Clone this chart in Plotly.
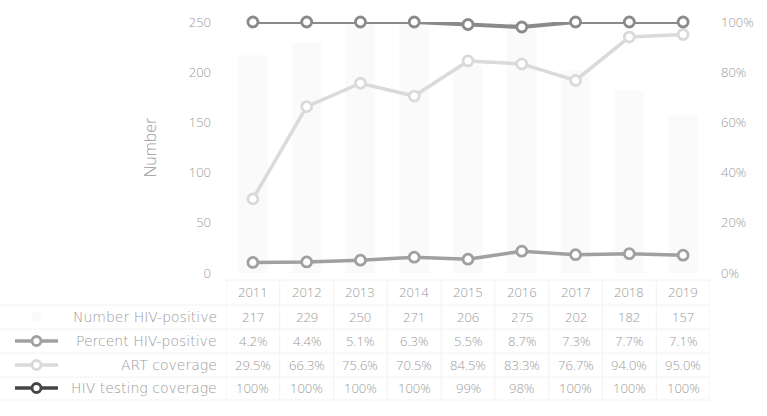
import plotly.graph_objects as go

# Data
years = ["2011", "2012", "2013", "2014", "2015", "2016", "2017", "2018", "2019"]
number_pos = [217, 229, 250, 271, 206, 275, 202, 182, 157]
pct_pos = [4.2, 4.4, 5.1, 6.3, 5.5, 8.7, 7.3, 7.7, 7.1]
art_cov = [29.5, 66.3, 75.6, 70.5, 84.5, 83.3, 76.7, 94.0, 95.0]
test_cov = [100, 100, 100, 100, 99, 98, 100, 100, 100]

row_names = ["Number HIV-positive", "Percent HIV-positive", "ART coverage", "HIV testing coverage"]
row_text = [
    [str(v) for v in number_pos],
    [f"{v:.1f}%" for v in pct_pos],
    [f"{v:.1f}%" for v in art_cov],
    [f"{v:g}%" for v in test_cov],
]
left_ticks = [0, 50, 100, 150, 200, 250]
right_ticks = [0, 20, 40, 60, 80, 100]

W, H = 767, 416
M_L, M_R, M_T, M_B = 226, 57, 22, 143
TXT = "#9a9a9a"
FONT = "Open Sans"
FS = 13

C_PCT = "#a0a0a0"
C_ART = "#dadada"
C_TEST = "#8a8a8a"
C_TEST_KEY = "#454545"
C_BAR = "#fafafa"

idx = list(range(len(years)))

fig = go.Figure()
fig.add_trace(go.Bar(x=idx, y=number_pos, marker=dict(color=C_BAR, line=dict(width=0)),
                     width=0.55, name=row_names[0], yaxis="y"))

def line_trace(vals, color, name, lw=3.5):
    return go.Scatter(x=idx, y=vals, mode="lines+markers", name=name, yaxis="y2",
                      line=dict(color=color, width=lw),
                      marker=dict(symbol="circle", size=10, color="white",
                                  line=dict(color=color, width=2.8)),
                      cliponaxis=False)

fig.add_trace(line_trace(art_cov, C_ART, row_names[2]))
fig.add_trace(line_trace(pct_pos, C_PCT, row_names[1]))
fig.add_trace(line_trace(test_cov, C_TEST, row_names[3], lw=4))

plot_h = H - M_T - M_B

def py2paper(py):
    return (H - M_B - py) / plot_h

def px2paper(px):
    return (px - M_L) / (W - M_L - M_R)

txt_font = dict(family=FONT, size=FS, color=TXT, weight=300)
label_font = dict(family="DejaVu Sans", size=14, color=TXT, weight=200)
annotations = []
shapes = []

# Year header and table body
year_y = 292
row_ys = [317, 341, 365, 388]
for i, yr in enumerate(years):
    annotations.append(dict(x=i, y=py2paper(year_y), xref="x", yref="paper", text=yr,
                            xanchor="center", yanchor="middle", showarrow=False, font=txt_font))
for r, (name, texts) in enumerate(zip(row_names, row_text)):
    yy = py2paper(row_ys[r])
    annotations.append(dict(x=px2paper(219), y=yy, xref="paper", yref="paper", text=name,
                            xanchor="right", yanchor="middle", showarrow=False,
                            font=label_font))
    for i, t in enumerate(texts):
        annotations.append(dict(x=i, y=yy, xref="x", yref="paper", text=t, showarrow=False,
                                xanchor="center", yanchor="middle", font=txt_font))

# Faint table grid
grid_c = "#f2f2f2"
h_lines = [280, 305, 329, 353, 377, 400]
for hy in h_lines:
    shapes.append(dict(type="line", xref="paper", yref="paper",
                       x0=px2paper(0 if hy > 300 else M_L), x1=1,
                       y0=py2paper(hy), y1=py2paper(hy), line=dict(color=grid_c, width=1)))
for b in range(len(years) + 1):
    shapes.append(dict(type="line", xref="x", yref="paper", x0=b - 0.5, x1=b - 0.5,
                       y0=py2paper(280), y1=py2paper(400), line=dict(color=grid_c, width=1)))

# Legend keys in front of the row labels
keys = [(row_ys[1], C_PCT), (row_ys[2], C_ART), (row_ys[3], C_TEST_KEY)]
for ky, kc in keys:
    shapes.append(dict(type="line", xref="paper", yref="paper",
                       x0=px2paper(15), x1=px2paper(58), y0=py2paper(ky), y1=py2paper(ky),
                       line=dict(color=kc, width=3.5)))
    shapes.append(dict(type="circle", xref="paper", yref="paper",
                       x0=px2paper(32), x1=px2paper(41), y0=py2paper(ky + 4.5), y1=py2paper(ky - 4.5),
                       fillcolor="white", line=dict(color=kc, width=2.8)))
shapes.append(dict(type="rect", xref="paper", yref="paper",
                   x0=px2paper(32), x1=px2paper(41), y0=py2paper(row_ys[0] + 4.5), y1=py2paper(row_ys[0] - 4.5),
                   fillcolor=C_BAR, line=dict(width=0)))

fig.update_layout(
    width=W, height=H,
    margin=dict(l=M_L, r=M_R, t=M_T, b=M_B),
    paper_bgcolor="white", plot_bgcolor="white",
    showlegend=False, bargap=0.45,
    font=txt_font,
    xaxis=dict(range=[-0.5, len(years) - 0.5], showticklabels=False, showgrid=False,
               zeroline=False, showline=False, ticks=""),
    yaxis=dict(range=[0, 250], tickvals=left_ticks, ticktext=[str(t) for t in left_ticks],
               showgrid=False, zeroline=False, showline=False, ticks="", ticklabelstandoff=14,
               title=dict(text="Number", font=dict(family=FONT, size=16, color=TXT, weight=300),
                          standoff=28),
               tickfont=txt_font),
    yaxis2=dict(range=[0, 100], overlaying="y", side="right", tickvals=right_ticks,
                ticktext=[f"{t}%" for t in right_ticks],
                showgrid=False, zeroline=False, showline=False, ticks="",
                ticklabelstandoff=10, tickfont=txt_font),
    annotations=annotations,
    shapes=shapes,
)

fig.write_html("out.html")
